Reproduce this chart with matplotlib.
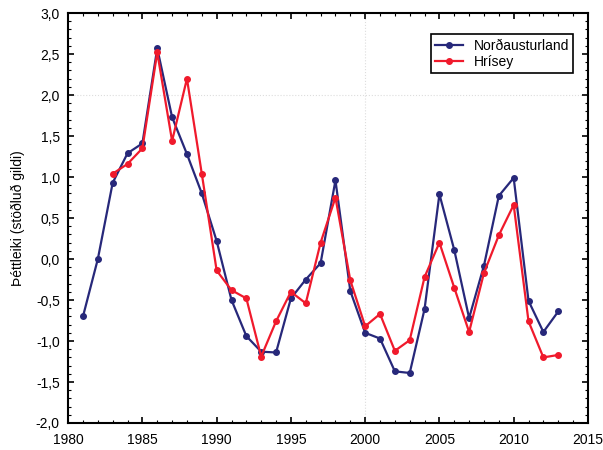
import matplotlib
matplotlib.use("Agg")
import matplotlib.pyplot as plt
from matplotlib.ticker import MultipleLocator, FuncFormatter

# Norðausturland 1981-2013
years_na = list(range(1981, 2014))
nordaustur = [-0.70, 0.00, 0.93, 1.29, 1.41, 2.57, 1.73, 1.28, 0.80, 0.22,
              -0.50, -0.94, -1.13, -1.14, -0.48, -0.25, -0.05, 0.96, -0.39, -0.90,
              -0.97, -1.37, -1.39, -0.61, 0.79, 0.11, -0.72, -0.08, 0.77, 0.99,
              -0.51, -0.89, -0.64]

# Hrísey 1983-2013
years_hr = list(range(1983, 2014))
hrisey = [1.04, 1.16, 1.35, 2.52, 1.44, 2.20, 1.04, -0.14, -0.38, -0.48,
          -1.19, -0.76, -0.40, -0.54, 0.20, 0.75, -0.26, -0.82, -0.67, -1.12,
          -0.99, -0.22, 0.20, -0.35, -0.89, -0.17, 0.29, 0.66, -0.76, -1.20,
          -1.17]

plt.rcParams['font.family'] = ['Liberation Sans', 'DejaVu Sans']

fig = plt.figure(figsize=(6.03, 4.5), dpi=100)
ax = fig.add_axes([0.113, 0.06, 0.862, 0.911])

# faint gridlines as seen in the scan
ax.axhline(2.0, color='#dddddd', lw=0.8, ls=':', zorder=0)
ax.axvline(2000, color='#dddddd', lw=0.8, ls=':', zorder=0)

ax.plot(years_na, nordaustur, color='#27287a', lw=1.6, marker='o', ms=4,
        label='Norðausturland', zorder=3)
ax.plot(years_hr, hrisey, color='#f01a2c', lw=1.6, marker='o', ms=4,
        label='Hrísey', zorder=4)

ax.set_xlim(1980, 2015)
ax.set_ylim(-2.0, 3.0)
ax.xaxis.set_major_locator(MultipleLocator(5))
ax.xaxis.set_minor_locator(MultipleLocator(1))
ax.yaxis.set_major_locator(MultipleLocator(0.5))
ax.yaxis.set_minor_locator(MultipleLocator(0.1))
ax.yaxis.set_major_formatter(FuncFormatter(lambda v, p: ('%.1f' % v).replace('.', ',')))
ax.tick_params(which='both', direction='in', top=True, right=True, labelsize=10)
ax.tick_params(which='major', length=4, width=1.2)
ax.tick_params(which='minor', length=2, width=0.8)
ax.tick_params(axis='x', which='major', pad=7)
ax.tick_params(axis='y', which='major', pad=6)
for s in ax.spines.values():
    s.set_linewidth(1.5)

ax.set_ylabel('Þéttleiki (stöðluð gildi)', fontsize=10, labelpad=8)

leg = ax.legend(loc='upper right', bbox_to_anchor=(0.985, 0.965), fontsize=10,
                fancybox=False, edgecolor='black', framealpha=1, handlelength=2,
                borderpad=0.3, labelspacing=0.2)
leg.get_frame().set_linewidth(1.2)

fig.savefig('out.png', dpi=100)
